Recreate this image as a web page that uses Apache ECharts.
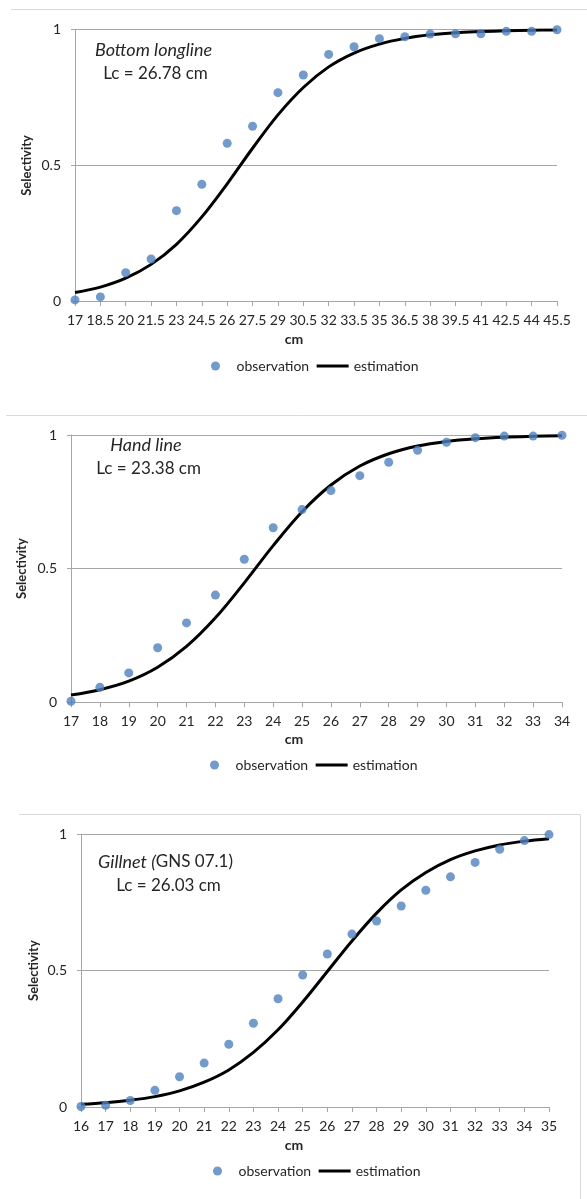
<!DOCTYPE html>
<html>
<head>
<meta charset="utf-8">
<script src="https://cdn.jsdelivr.net/npm/echarts@6/dist/echarts.min.js"></script>
<style>
html,body{margin:0;padding:0;background:#fff;}
#c{width:587px;height:1199px;}
</style>
</head>
<body>
<div id="c"></div>
<script>
// ---- Data ----
const blLengths = ['17','18.5','20','21.5','23','24.5','26','27.5','29','30.5','32','33.5','35','36.5','38','39.5','41','42.5','44','45.5'];
const blObserved = [0.004,0.015,0.104,0.155,0.333,0.43,0.581,0.644,0.768,0.833,0.909,0.937,0.967,0.974,0.984,0.985,0.985,0.994,0.994,1.0];
const blEstimated = [0.031,0.051,0.084,0.135,0.209,0.31,0.432,0.563,0.686,0.787,0.863,0.914,0.947,0.968,0.981,0.989,0.993,0.996,0.998,0.999];

const hlLengths = ['17','18','19','20','21','22','23','24','25','26','27','28','29','30','31','32','33','34'];
const hlObserved = [0.004,0.056,0.11,0.204,0.297,0.401,0.535,0.653,0.721,0.792,0.848,0.898,0.943,0.973,0.99,0.996,0.996,0.999];
const hlEstimated = [0.027,0.047,0.079,0.131,0.209,0.316,0.447,0.586,0.713,0.813,0.884,0.930,0.959,0.976,0.986,0.992,0.995,0.997];

const gnLengths = ['16','17','18','19','20','21','22','23','24','25','26','27','28','29','30','31','32','33','34','35'];
const gnObserved = [0.002,0.006,0.024,0.061,0.111,0.161,0.23,0.307,0.397,0.484,0.561,0.634,0.682,0.737,0.795,0.844,0.897,0.945,0.977,0.999];
const gnEstimated = [0.010,0.016,0.025,0.038,0.059,0.091,0.136,0.200,0.283,0.385,0.497,0.609,0.711,0.796,0.860,0.907,0.939,0.961,0.975,0.984];

const yTicks = [0, 0.5, 1];
const panelTitles = ['Bottom longline', 'Hand line', 'Gillnet'];
const lcLabels = ['Lc = 26.78 cm', 'Lc = 23.38 cm', 'Lc = 26.03 cm'];

// ---- Layout ----
const FONT = 'Lato, "Open Sans", sans-serif';
const TXT = '#262626';
const AX = '#a6a6a6';
const panels = [
  {cats: blLengths, obs: blObserved, est: blEstimated, grid: {left: 75, top: 29.7, width: 482, height: 271.3},
   selX: 27, selY: 165.4, cmY: 339, legLeft: 206, legTop: 354},
  {cats: hlLengths, obs: hlObserved, est: hlEstimated, grid: {left: 71, top: 435, width: 491, height: 267.3},
   selX: 21.7, selY: 568.6, cmY: 739, legLeft: 205, legTop: 753},
  {cats: gnLengths, obs: gnObserved, est: gnEstimated, grid: {left: 81, top: 834.3, width: 468, height: 272.7},
   selX: 33.7, selY: 970.6, cmY: 1145, legLeft: 208, legTop: 1159}
];

const grids = [], xAxes = [], yAxes = [], series = [], legends = [], graphics = [];
panels.forEach((p, i) => {
  grids.push(Object.assign({containLabel: false}, p.grid));
  xAxes.push({
    type: 'category', gridIndex: i, data: p.cats, boundaryGap: false,
    axisLine: {show: true, lineStyle: {color: AX, width: 1}},
    axisTick: {show: true, interval: 0, length: 5, lineStyle: {color: AX}},
    axisLabel: {interval: 0, margin: 12, color: TXT, fontFamily: FONT, fontSize: 14},
    splitLine: {show: false}
  });
  yAxes.push({
    type: 'value', gridIndex: i, min: yTicks[0], max: yTicks[yTicks.length - 1], interval: 0.5,
    axisLine: {show: true, lineStyle: {color: AX, width: 1}},
    axisTick: {show: true, length: 4, lineStyle: {color: AX}},
    axisLabel: {margin: 14, color: TXT, fontFamily: FONT, fontSize: 14,
      formatter: v => String(v)},
    splitLine: {show: true, lineStyle: {color: AX, width: 1}}
  });
  series.push({
    name: 'estimation', type: 'line', xAxisIndex: i, yAxisIndex: i, data: p.est,
    smooth: 0.35, symbol: 'none', z: 2,
    lineStyle: {color: '#000', width: 3}, itemStyle: {color: '#000'}
  });
  series.push({
    name: 'observation', type: 'scatter', xAxisIndex: i, yAxisIndex: i, data: p.obs,
    symbol: 'circle', symbolSize: 9, clip: false, z: 3,
    itemStyle: {color: '#4f81bd'}
  });
  legends.push({
    left: p.legLeft, top: p.legTop, orient: 'horizontal',
    itemWidth: 32, itemHeight: 9, itemGap: 6,
    data: [{name: 'observation', icon: 'circle'},
           {name: 'estimation', itemStyle: {opacity: 0}, lineStyle: {width: 3, color: '#000'}}],
    textStyle: {color: TXT, fontFamily: FONT, fontSize: 14},
    selectedMode: false
  });
  graphics.push({
    type: 'text', x: p.selX, y: p.selY, rotation: Math.PI / 2,
    style: {text: 'Selectivity', fontFamily: FONT, fontSize: 13, fontWeight: 'bold', fill: TXT,
      align: 'center', verticalAlign: 'middle'}
  });
  graphics.push({
    type: 'text', x: 294, y: p.cmY,
    style: {text: 'cm', fontFamily: FONT, fontSize: 14, fontWeight: 'bold', fill: TXT,
      align: 'center', verticalAlign: 'middle'}
  });
});

// annotations
graphics.push({type: 'text', x: 153.5, y: 50, style: {text: panelTitles[0], fontFamily: FONT, fontSize: 18, fontStyle: 'italic', fill: TXT, align: 'center', verticalAlign: 'middle'}});
graphics.push({type: 'text', x: 155.5, y: 74, style: {text: lcLabels[0], fontFamily: FONT, fontSize: 17, fill: TXT, align: 'center', verticalAlign: 'middle'}});
graphics.push({type: 'text', x: 146, y: 445, style: {text: panelTitles[1], fontFamily: FONT, fontSize: 18, fontStyle: 'italic', fill: TXT, align: 'center', verticalAlign: 'middle'}});
graphics.push({type: 'text', x: 148.6, y: 469, style: {text: lcLabels[1], fontFamily: FONT, fontSize: 17, fill: TXT, align: 'center', verticalAlign: 'middle'}});
graphics.push({type: 'text', x: 165.5, y: 862, style: {
  text: '{i|' + panelTitles[2] + ' (}{n|GNS 07.1)}',
  align: 'center', verticalAlign: 'middle',
  rich: {i: {fontFamily: FONT, fontSize: 18, fontStyle: 'italic', fill: TXT}, n: {fontFamily: FONT, fontSize: 17, fill: TXT}}
}});
graphics.push({type: 'text', x: 168.5, y: 886, style: {text: lcLabels[2], fontFamily: FONT, fontSize: 17, fill: TXT, align: 'center', verticalAlign: 'middle'}});

// separators / frame
graphics.push({type: 'line', shape: {x1: 11, y1: 9.5, x2: 587, y2: 9.5}, style: {stroke: '#d9d9d9', lineWidth: 1}, silent: true});
graphics.push({type: 'line', shape: {x1: 6, y1: 415.5, x2: 587, y2: 415.5}, style: {stroke: '#d9d9d9', lineWidth: 1}, silent: true});
graphics.push({type: 'polyline', shape: {points: [[19, 814.5], [580.5, 814.5], [580.5, 1199]]}, style: {stroke: '#d9d9d9', lineWidth: 1, fill: null}, silent: true});

const chart = echarts.init(document.getElementById('c'), null, {renderer: 'canvas'});
chart.setOption({
  animation: false,
  backgroundColor: '#fff',
  grid: grids, xAxis: xAxes, yAxis: yAxes, series: series, legend: legends,
  graphic: {elements: graphics}
});
</script>
</body>
</html>
